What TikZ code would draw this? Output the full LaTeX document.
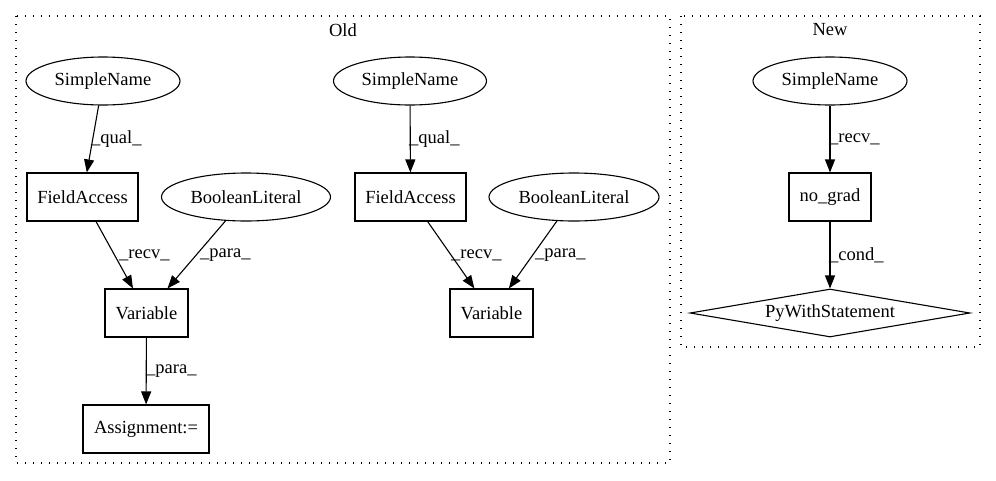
\documentclass[tikz,border=0pt]{standalone}
\usepackage{fontspec}
\setmainfont{Liberation Serif}
\usetikzlibrary{shapes.geometric,arrows.meta}
\begin{document}
\begin{tikzpicture}[x=1pt,y=-1pt,
  every node/.style={font=\fontsize{18.5}{20}\selectfont, inner sep=0pt},
  box/.style={draw, line width=1.1pt, rectangle, minimum height=48pt},
  oval/.style={draw, line width=1.1pt, ellipse, minimum height=48pt},
  dia/.style={draw, line width=1.1pt, diamond, aspect=5.8, minimum width=280pt, minimum height=48pt},
  cluster/.style={draw, line width=1.3pt, dash pattern=on 1.3pt off 6.7pt},
  edge/.style={line width=1.1pt, -{Triangle[length=13pt,width=10pt]}},
  lbl/.style={anchor=west}]
\useasboundingbox (0,0) rectangle (996,480);
\draw[cluster] (16,16) rectangle (670,463);
\draw[cluster] (681,16) rectangle (980,347);
\node (old) at (343,30) {Old};
\node (new) at (830,30) {New};
% Old, left
\node[oval, minimum width=154pt] (sn1) at (103,81) {SimpleName};
\node[box, minimum width=111pt] (fa1) at (82.5,197) {FieldAccess};
\node[oval, minimum width=169pt] (bl1) at (246,197) {BooleanLiteral};
\node[box, minimum width=83pt] (v1) at (146.5,313) {Variable};
\node[box, minimum width=126pt] (as) at (146,429) {Assignment:=};
% Old, right
\node[oval, minimum width=153pt] (sn2) at (410,81) {SimpleName};
\node[box, minimum width=111pt] (fa2) at (410.5,197) {FieldAccess};
\node[oval, minimum width=170pt] (bl2) at (574,197) {BooleanLiteral};
\node[box, minimum width=83pt] (v2) at (491.5,313) {Variable};
% New
\node[oval, minimum width=154pt] (sn3) at (830,81) {SimpleName};
\node[box, minimum width=82pt] (ng) at (830,197) {no\_grad};
\node[dia] (pw) at (830,313) {PyWithStatement};
% edges
\draw[edge] (sn1) -- (fa1);
\draw[edge] (fa1) -- (v1);
\draw[edge] (bl1) -- (v1);
\draw[edge] (v1) -- (as);
\draw[edge] (sn2) -- (fa2);
\draw[edge] (fa2) -- (v2);
\draw[edge] (bl2) -- (v2);
\draw[edge] (sn3) -- (ng);
\draw[edge] (ng) -- (pw);
% labels
\node[lbl] (l1) at (91,139) {\_qual\_};
\node[lbl] (l2) at (119,255) {\_recv\_};
\node[lbl] (l3) at (200,255) {\_para\_};
\node[lbl] (l4) at (146,371) {\_para\_};
\node[lbl] (l5) at (409,139) {\_qual\_};
\node[lbl] (l6) at (451,255) {\_recv\_};
\node[lbl] (l7) at (535,255) {\_para\_};
\node[lbl] (l8) at (829,139) {\_recv\_};
\node[lbl] (l9) at (829,255) {\_cond\_};
\end{tikzpicture}
\end{document}
